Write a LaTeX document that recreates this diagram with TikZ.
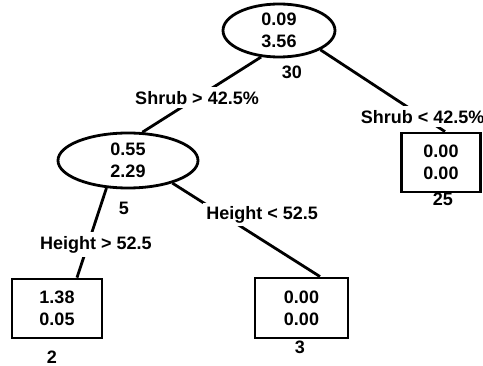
\documentclass[tikz,border=0pt]{standalone}
\usepackage{fontspec}
\setmainfont{Liberation Sans}
\usetikzlibrary{shapes.geometric}
\begin{document}
\begin{tikzpicture}[x=1pt,y=-1pt,line width=2.8pt,
  font=\fontsize{18}{22}\selectfont\bfseries,
  oval/.style={ellipse,draw,align=center,inner sep=0pt},
  leaf/.style={rectangle,draw,align=center,inner sep=0pt},
  cond/.style={fill=white,inner sep=4pt},
  count/.style={inner sep=0pt}]
\useasboundingbox (0,0) rectangle (483,366);
\node[at={(279,30.5)},oval,minimum width=112pt,minimum height=53pt] (root) {0.09\\3.56};
\node[at={(128,160.5)},oval,minimum width=140pt,minimum height=55pt] (mid) {0.55\\2.29};
\node[at={(57,308.5)},leaf,minimum width=90pt,minimum height=59pt] (box1) {1.38\\0.05};
\node[at={(301.5,308)},leaf,minimum width=93pt,minimum height=60pt] (box3) {0.00\\0.00};
\node[at={(441,162.5)},leaf,minimum width=79pt,minimum height=59pt] (box25) {0.00\\0.00};
\node[count,at={(292,72)}] (n30) {30};
\node[count,at={(124,208)}] (n5) {5};
\node[count,at={(52,357)}] (n2) {2};
\node[count,at={(300,347)}] (n3) {3};
\node[count,at={(443,199)}] (n25) {25};
\draw (root.236) -- node[cond,pos=0.54] {Shrub > 42.5\%} (mid.63);
\draw (root.335) -- node[cond,pos=0.82] {Shrub < 42.5\%} ([xshift=4pt]box25.north);
\draw (mid.232) -- node[cond,pos=0.63,xshift=8pt] {Height > 52.5} ([xshift=20pt]box1.north);
\draw (mid.333) -- node[cond,pos=0.2,anchor=north west,inner sep=3pt] {Height < 52.5} ([xshift=18.5pt]box3.north);
\end{tikzpicture}
\end{document}
